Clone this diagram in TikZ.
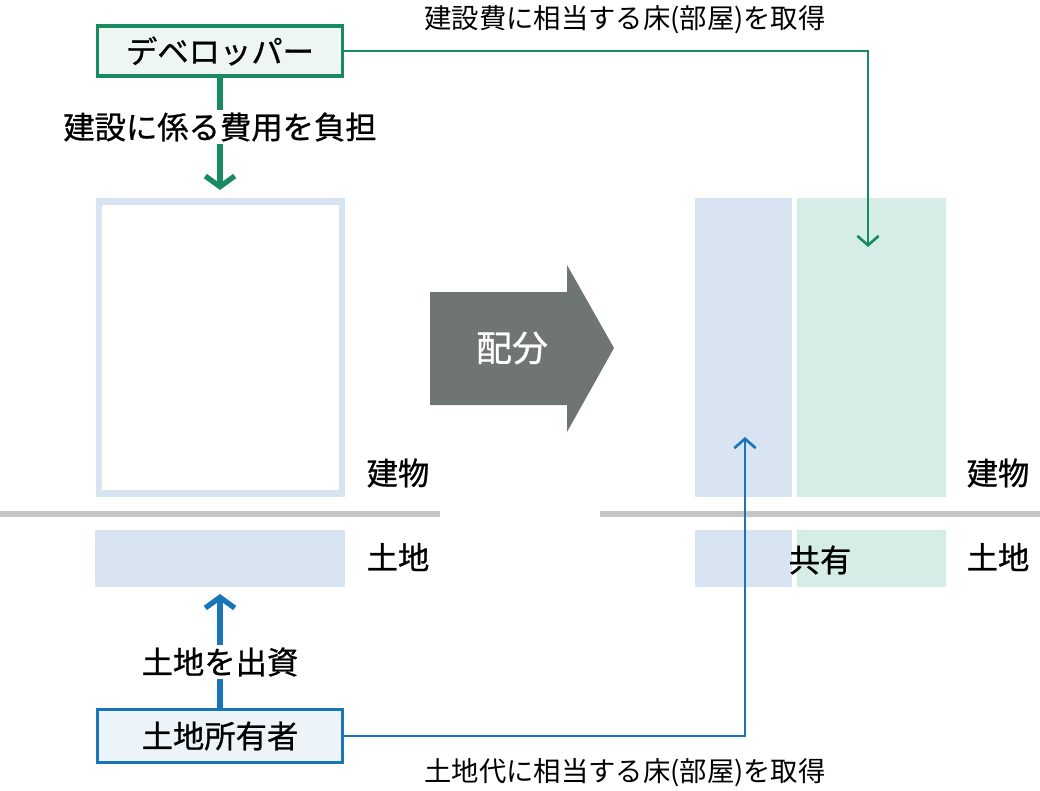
\documentclass[tikz,border=0pt]{standalone}
\usepackage{fontspec}
\setmainfont{Noto Sans CJK JP}
\newfontfamily\medf{Noto Sans CJK JP}[FakeBold=0.8]
\usetikzlibrary{arrows.meta}
\definecolor{dg}{HTML}{1A8A60}
\definecolor{db}{HTML}{1A74B8}
\definecolor{lb}{HTML}{D8E4F2}
\definecolor{lg}{HTML}{D5EDE6}
\definecolor{gr}{HTML}{6E7572}
\definecolor{ln}{HTML}{C6C6C6}
\tikzset{lbl/.style={font=\fontsize{23.5}{26}\selectfont\medf},
 lblm/.style={font=\fontsize{20.5}{24}\selectfont},
 chev/.style={-{Straight Barb[length=8pt,width=22pt,line width=4pt]},line width=4pt}}
\begin{document}
\begin{tikzpicture}[x=0.75pt,y=-0.75pt]
\useasboundingbox (0,0) rectangle (1040,790);
% developer
\node[draw=dg,line width=2.5pt,fill=dg!8,minimum width=245*0.75pt,minimum height=50*0.75pt,inner sep=0pt,lbl] (dev) at (220,51) {デベロッパー};
\node[lbl,inner sep=2pt] (devl) at (220,127) {建設に係る費用を負担};
\draw[dg,line width=4pt] (dev.south) -- (devl.north);
\coordinate (ga) at (220,190);
\draw[dg,chev] (devl.south) -- (ga);
% empty building
\node[draw=lb,line width=5pt,minimum width=243*0.75pt,minimum height=292*0.75pt] (bld) at (220.5,347.5) {};
\node[lbl] (b1) at (398,473) {建物};
\draw[ln,line width=4pt] (0,514) -- (440,514) (600,514) -- (1040,514);
\fill[lb] (95,530) rectangle (345,587);
\node[lbl] (l1) at (398,557) {土地};
% owner
\node[draw=db,line width=2.5pt,fill=db!8,minimum width=245*0.75pt,minimum height=53*0.75pt,inner sep=0pt,lbl] (own) at (220,736) {土地所有者};
\node[lbl,inner sep=2pt] (ownl) at (220,662) {土地を出資};
\draw[db,line width=4pt] (own.north) -- (ownl.south);
\coordinate (ba) at (220,594);
\draw[db,chev] (ownl.north) -- (ba);
% big arrow
\fill[gr] (430,292) -- (567,292) -- (567,265) -- (614,348) -- (567,432) -- (567,405) -- (430,405) -- cycle;
\node[white,font=\fontsize{27}{30}\selectfont\medf] (hai) at (512,348) {配分};
% right
\fill[lb] (695,198) rectangle (792,497);
\fill[lg] (797,198) rectangle (946,497);
\fill[lb] (695,530) rectangle (792,587);
\fill[lg] (797,530) rectangle (946,587);
\node[lbl] (ky) at (820,560) {共有};
\node[lbl] (b2) at (998,473) {建物};
\node[lbl] (l2) at (998,557) {土地};
% connectors
\coordinate (gt) at (868,247);
\draw[dg,line width=2pt,-{Straight Barb[length=7pt,width=16pt]}] (dev.east) -| (gt);
\node[lblm] (gl) at (625,20) {建設費に相当する床(部屋)を取得};
\coordinate (bt) at (745,437);
\draw[db,line width=2pt,-{Straight Barb[length=7pt,width=16pt]}] (own.east) -| (bt);
\node[lblm] (bl) at (625,773) {土地代に相当する床(部屋)を取得};
\end{tikzpicture}
\end{document}
